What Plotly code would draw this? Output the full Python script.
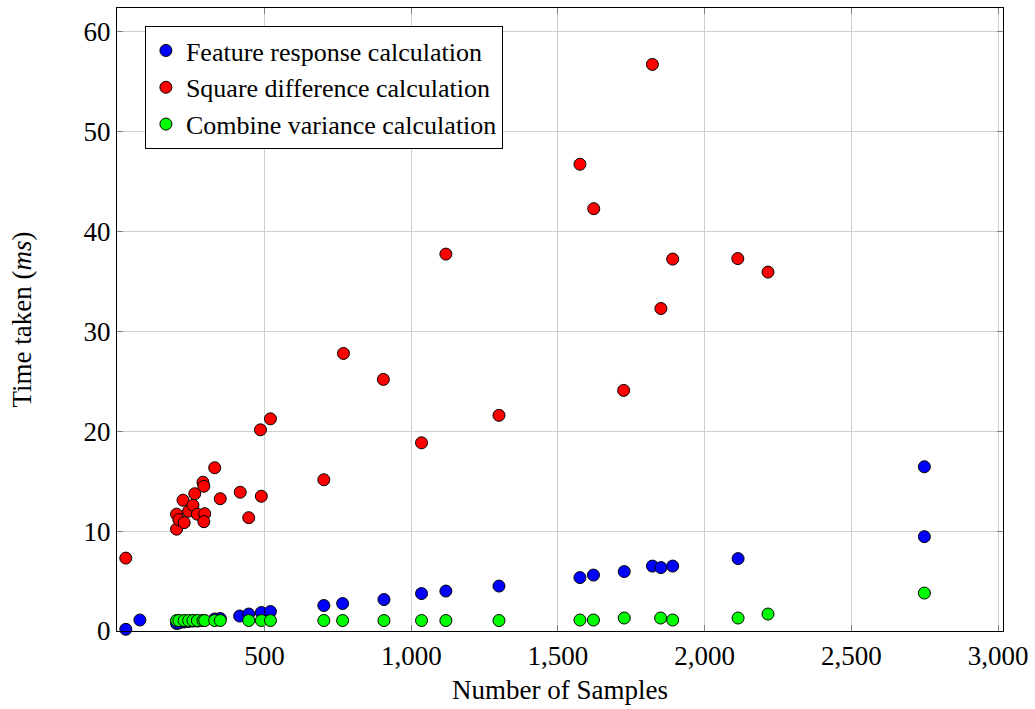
import plotly.graph_objects as go

# Timing of each stage against the number of samples processed
feature_x = [27, 75, 200, 208, 226, 241, 256, 271, 290, 330, 349, 415, 446, 489, 520,
             702, 766, 907, 1035, 1118, 1299, 1575, 1621, 1726, 1822, 1851, 1891, 2114,
             2749, 2749]
feature_y = [0.17, 1.1, 0.75, 0.8, 0.9, 0.95, 1.0, 1.0, 1.05, 1.2, 1.25, 1.5, 1.7, 1.85, 1.95,
             2.55, 2.75, 3.15, 3.75, 4.0, 4.5, 5.35, 5.6, 5.95, 6.5, 6.35, 6.5, 7.25,
             9.45, 16.45]

square_x = [27, 200, 200, 208, 226, 222, 241, 256, 262, 271, 290, 293, 296, 293, 330, 349,
            417, 446, 489, 486, 520, 702, 769, 905, 1035, 1118, 1299, 1575, 1622, 1724,
            1822, 1851, 1891, 2113, 2216]
square_y = [7.3, 10.2, 11.7, 11.15, 10.85, 13.1, 12.0, 12.6, 13.75, 11.7, 14.9, 14.5, 11.75,
            10.95, 16.35, 13.25, 13.9, 11.35, 13.5, 20.15, 21.25, 15.15, 27.8, 25.2, 18.85,
            37.75, 21.6, 46.75, 42.3, 24.1, 56.75, 32.3, 37.25, 37.3, 35.95]

combine_x = [200, 208, 226, 241, 256, 271, 290, 296, 330, 349, 446, 489, 520, 702, 766, 907,
             1035, 1118, 1299, 1575, 1621, 1726, 1850, 1891, 2114, 2216, 2749]
combine_y = [1.05, 1.05, 1.05, 1.05, 1.05, 1.05, 1.05, 1.05, 1.05, 1.05, 1.05, 1.05, 1.05,
             1.05, 1.05, 1.05, 1.05, 1.05, 1.05, 1.1, 1.1, 1.3, 1.3, 1.1, 1.3, 1.7, 3.8]

series = [
    ("Feature response calculation", feature_x, feature_y, "#0000ff"),
    ("Square difference calculation", square_x, square_y, "#ff0000"),
    ("Combine variance calculation", combine_x, combine_y, "#00ff00"),
]

x_ticks = [500, 1000, 1500, 2000, 2500, 3000]
y_ticks = [0, 10, 20, 30, 40, 50, 60]

FONT = "Liberation Serif"

fig = go.Figure()
for name, xs, ys, color in series:
    fig.add_trace(go.Scatter(
        x=xs, y=ys, mode="markers", name=name, cliponaxis=False,
        marker=dict(size=12, color=color, line=dict(color="black", width=1)),
    ))

axis_common = dict(
    showline=True, linecolor="black", linewidth=1.2, mirror="allticks",
    ticks="inside", ticklen=6, tickcolor="#808080",
    showgrid=True, gridcolor="#cfcfcf", gridwidth=1,
    zeroline=False, tickfont=dict(family=FONT, size=27, color="black"),
)

fig.update_xaxes(
    range=[-3, 3017], tickvals=x_ticks, tickformat=",",
    title=dict(text="Number of Samples", font=dict(family=FONT, size=27, color="black"), standoff=10),
    **axis_common,
)
fig.update_yaxes(
    range=[0, 62.4], tickvals=y_ticks,
    title=dict(text="Time taken (<i>ms</i>)", font=dict(family=FONT, size=27, color="black"), standoff=44),
    **axis_common,
)

fig.update_layout(
    width=1035, height=709,
    margin=dict(l=117, r=30, t=7, b=78),
    plot_bgcolor="white", paper_bgcolor="white",
    font=dict(family=FONT, size=27, color="black"),
    legend=dict(
        x=0.0315, y=0.971, xanchor="left", yanchor="top",
        bgcolor="white", bordercolor="black", borderwidth=1,
        font=dict(family=FONT, size=26, color="black"),
        itemwidth=30, tracegroupgap=0,
    ),
)

fig.write_html("out.html")
